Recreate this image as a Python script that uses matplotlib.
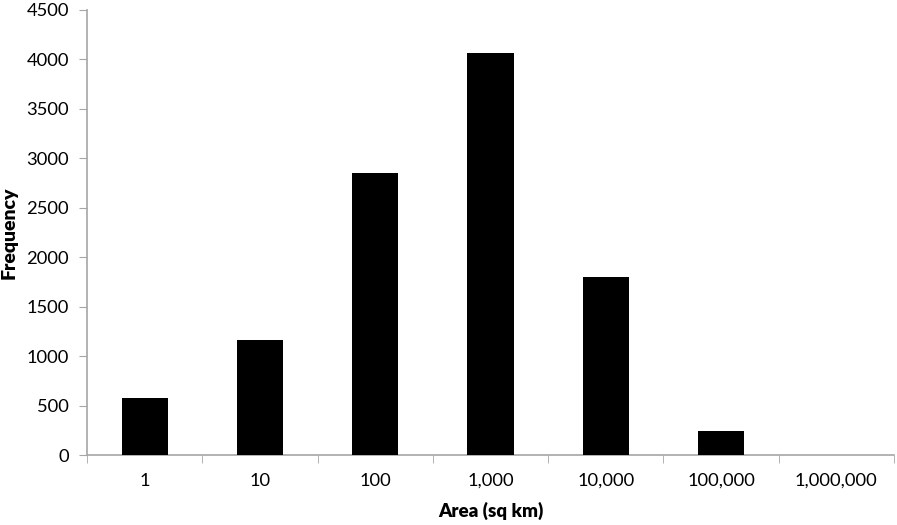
import matplotlib
matplotlib.use("Agg")
import matplotlib.pyplot as plt
import numpy as np

categories = ["1", "10", "100", "1,000", "10,000", "100,000", "1,000,000"]
frequency = [577, 1160, 2848, 4070, 1800, 245, 0]

plt.rcParams['font.family'] = ['Lato', 'DejaVu Sans']

fig = plt.figure(figsize=(8.97, 5.25), dpi=100)
ax = fig.add_axes([0.097, 0.1333, 0.8997, 0.8477])

x = np.arange(len(categories))
ax.bar(x, frequency, width=0.4, color='black', zorder=3)

ax.set_xlim(-0.5, len(categories) - 0.5)
ax.set_ylim(0, 4500)
ax.set_yticks(np.arange(0, 4501, 500))
ax.set_xticks(x)
ax.set_xticklabels(categories)
ax.set_xticks(np.arange(-0.5, len(categories)), minor=True)

gray = '#a6a6a6'
for s in ['top', 'right']:
    ax.spines[s].set_visible(False)
for s in ['left', 'bottom']:
    ax.spines[s].set_color(gray)
    ax.spines[s].set_linewidth(1.2)

ax.tick_params(axis='y', direction='out', length=6, color=gray, labelsize=13.2, pad=7)
ax.tick_params(axis='x', which='major', length=0, labelsize=13.2, pad=13)
ax.tick_params(axis='x', which='minor', direction='out', length=6, color=gray)

ax.set_xlabel("Area (sq km)", fontsize=13.5, fontweight='heavy', labelpad=9)
ax.set_ylabel("Frequency", fontsize=14, fontweight='heavy', labelpad=6)

fig.savefig("out.png", dpi=100)
